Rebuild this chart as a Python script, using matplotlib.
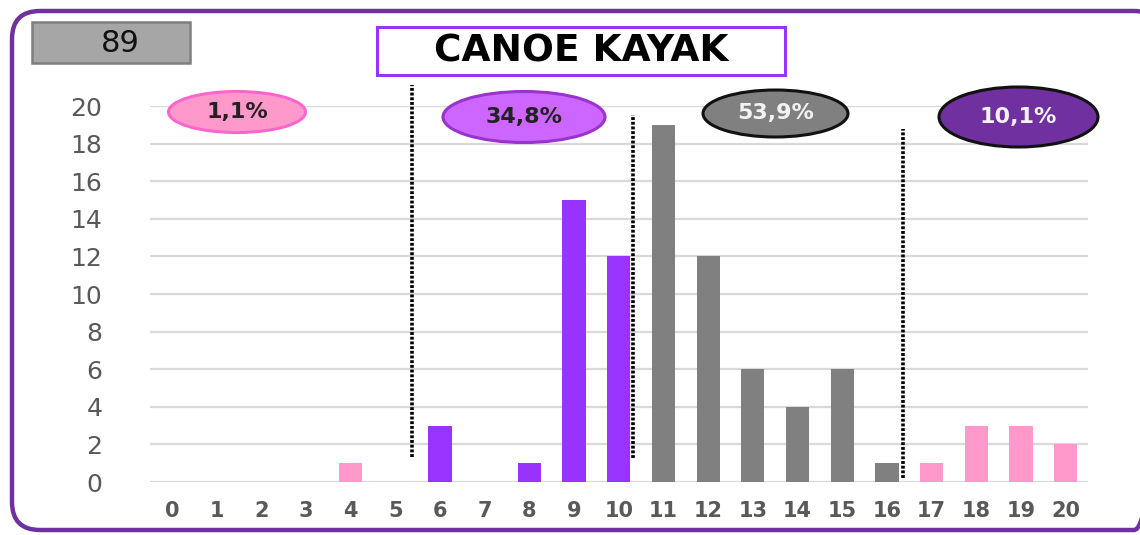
import numpy as np
import matplotlib.pyplot as plt
from matplotlib.patches import Ellipse, FancyBboxPatch, Rectangle

# scores 0..20 and number of athletes per score
scores = list(range(21))
counts = [0, 0, 0, 0, 1, 0, 3, 0, 1, 15, 12, 19, 12, 6, 4, 6, 1, 1, 3, 3, 2]
groups = ['pink', 'pink', 'pink', 'pink', 'pink', 'pink',
          'purple', 'purple', 'purple', 'purple', 'purple',
          'gray', 'gray', 'gray', 'gray', 'gray', 'gray',
          'pink', 'pink', 'pink', 'pink']
total = 89
title = "CANOE KAYAK"

# group shares shown in the bubbles
shares = ['1,1%', '34,8%', '53,9%', '10,1%']

# separators between groups (x position, bottom, top)
sep_x = [5.38, 10.32, 16.35]
sep_bottom = [1.35, 1.3, 0.2]
sep_top = [21.1, 19.5, 18.8]

bar_colors = {'pink': '#FF99CC', 'purple': '#9933FF', 'gray': '#808080'}

W, H = 1140, 535
fig = plt.figure(figsize=(W / 100, H / 100), dpi=100)
fig.patch.set_facecolor('white')

# main chart area (pixel box 149..1088 x 106..482)
ax = fig.add_axes([149.6 / W, 53 / H, (1088 - 149.6) / W, 376 / H])
ax.bar(scores, counts, width=0.52, color=[bar_colors[g] for g in groups], zorder=3)
ax.set_xlim(-0.5, 20.5)
ax.set_ylim(0, 20)
ax.set_yticks(range(0, 21, 2))
ax.set_xticks(scores)
ax.set_xticklabels([str(s) for s in scores], fontsize=15, fontweight='bold', color='#595959')
ax.tick_params(axis='x', length=0, pad=14)
ax.tick_params(axis='y', length=0, pad=34, labelsize=18, labelcolor='#595959')
ax.yaxis.grid(True, color='#D9D9D9', lw=1.6, zorder=0)
ax.set_axisbelow(True)
for s in ax.spines.values():
    s.set_visible(False)

for x, b, t in zip(sep_x, sep_bottom, sep_top):
    ax.plot([x, x], [b, t], color='black', lw=2.6, ls=(0, (0.8, 0.5)),
            clip_on=False, zorder=4)

# overlay in pixel coordinates for the decorations
ov = fig.add_axes([0, 0, 1, 1], zorder=5)
ov.set_xlim(0, W)
ov.set_ylim(H, 0)
ov.axis('off')
ov.patch.set_alpha(0)

# outer rounded frame
ov.add_patch(FancyBboxPatch((12, 11), 1150, 519, boxstyle='round,pad=0,rounding_size=28',
                            fc='none', ec='#7030A0', lw=3.2))

# total box
ov.add_patch(Rectangle((32, 22), 158, 41, fc='#A6A6A6', ec='#7F7F7F', lw=1.8))
ov.text(120, 44, str(total), fontsize=22, ha='center', va='center', color='#111111')

# title box
ov.add_patch(Rectangle((377, 27), 408, 48, fc='white', ec='#9933FF', lw=2.2))
ov.text(581, 52, title, fontsize=27, fontweight='bold', ha='center', va='center', color='black')

# share bubbles
bubbles = [
    ((237, 112), 137, 41, '#FF99CC', '#FF66CC', '#222222'),
    ((524, 117), 162, 51, '#CC66FF', '#9933CC', '#222222'),
    ((775.5, 113.5), 145, 47, '#808080', '#111111', '#F2F2F2'),
    ((1018.5, 117), 159, 60, '#7030A0', '#111111', '#F2F2F2'),
]
for (c, w, h, fc, ec, tc), lab in zip(bubbles, shares):
    ov.add_patch(Ellipse(c, w, h, fc=fc, ec=ec, lw=2.2))
    ov.text(c[0], c[1], lab, fontsize=16, fontweight='bold', ha='center', va='center', color=tc)

fig.savefig('out.png', dpi=100)
